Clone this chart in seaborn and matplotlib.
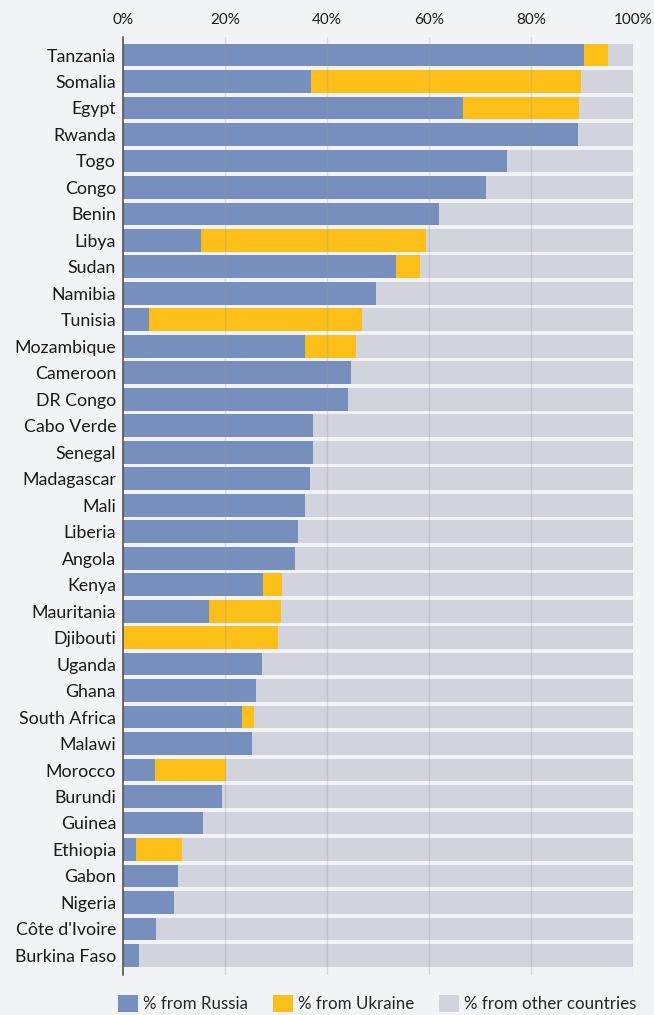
import matplotlib
matplotlib.use("Agg")
import matplotlib.pyplot as plt
from matplotlib.patches import Patch
import seaborn as sns
import pandas as pd

countries = ["Tanzania", "Somalia", "Egypt", "Rwanda", "Togo", "Congo", "Benin", "Libya",
             "Sudan", "Namibia", "Tunisia", "Mozambique", "Cameroon", "DR Congo", "Cabo Verde",
             "Senegal", "Madagascar", "Mali", "Liberia", "Angola", "Kenya", "Mauritania",
             "Djibouti", "Uganda", "Ghana", "South Africa", "Malawi", "Morocco", "Burundi",
             "Guinea", "Ethiopia", "Gabon", "Nigeria", "Côte d'Ivoire", "Burkina Faso"]
russia = [90.3, 36.9, 66.6, 89.2, 75.3, 71.1, 62.0, 15.3,
          53.5, 49.6, 5.1, 35.7, 44.7, 44.1, 37.2,
          37.2, 36.6, 35.7, 34.3, 33.7, 27.5, 16.8,
          0.0, 27.2, 26.1, 23.3, 25.3, 6.3, 19.4,
          15.7, 2.5, 10.8, 10.0, 6.5, 3.1]
ukraine = [4.8, 52.9, 22.8, 0.0, 0.0, 0.0, 0.0, 44.1,
           4.7, 0.0, 41.8, 10.0, 0.0, 0.0, 0.0,
           0.0, 0.0, 0.0, 0.0, 0.0, 3.7, 14.2,
           30.4, 0.0, 0.0, 2.4, 0.0, 13.8, 0.0,
           0.0, 9.0, 0.0, 0.0, 0.0, 0.0]
series_labels = ["% from Russia", "% from Ukraine", "% from other countries"]
tick_values = [0, 20, 40, 60, 80, 100]

df = pd.DataFrame({"country": countries, "russia": russia, "ukraine": ukraine})
df["russia_ukraine"] = df["russia"] + df["ukraine"]
df["total"] = 100.0

c_russia = "#778fbd"
c_ukraine = "#fbbf18"
c_other = "#d1d4dd"
bg = "#f2f3f7"

sns.set_theme(style="white")
plt.rcParams["font.family"] = ["Lato", "DejaVu Sans"]

fig = plt.figure(figsize=(6.54, 10.15), dpi=100, facecolor=bg)
ax = fig.add_axes([123 / 654, 1 - 975 / 1015, 510 / 654, (975 - 37) / 1015])
ax.set_facecolor(bg)

w = 0.86
bar_kw = dict(width=w, orient="h", saturation=1, ax=ax, linewidth=0, edgecolor="none")
sns.barplot(data=df, y="country", x="total", color=c_other, zorder=1, **bar_kw)
sns.barplot(data=df, y="country", x="russia_ukraine", color=c_ukraine, zorder=2, **bar_kw)
sns.barplot(data=df, y="country", x="russia", color=c_russia, zorder=3, **bar_kw)

ax.set_xlim(0, 100)
ax.set_ylim(len(countries) - 1 + 0.74, -0.68)
ax.set_xticks(tick_values)
ax.set_xticklabels([f"{v}%" for v in tick_values], fontsize=11, color="#1a1a1a")
ax.xaxis.tick_top()
ax.tick_params(axis="x", length=0, pad=7)
ax.tick_params(axis="y", length=0, pad=5, labelsize=12.8, labelcolor="#1a1a1a")
ax.set_xlabel("")
ax.set_ylabel("")

for v in tick_values[1:]:
    ax.axvline(v, color="#9a9aa0", alpha=0.28, lw=1.0, zorder=4)

for s in ["top", "right", "bottom"]:
    ax.spines[s].set_visible(False)
ax.spines["left"].set_color("#555555")
ax.spines["left"].set_linewidth(1.2)
ax.spines["left"].set_zorder(5)

handles = [Patch(facecolor=c, edgecolor="none") for c in (c_russia, c_ukraine, c_other)]
fig.legend(handles, series_labels, loc="lower center", bbox_to_anchor=(0.577, -0.012),
           ncol=3, frameon=False, fontsize=12.2, handlelength=1.15, handleheight=1.2,
           handletextpad=0.3, columnspacing=1.5)

fig.savefig("out.png", dpi=100, facecolor=bg)
